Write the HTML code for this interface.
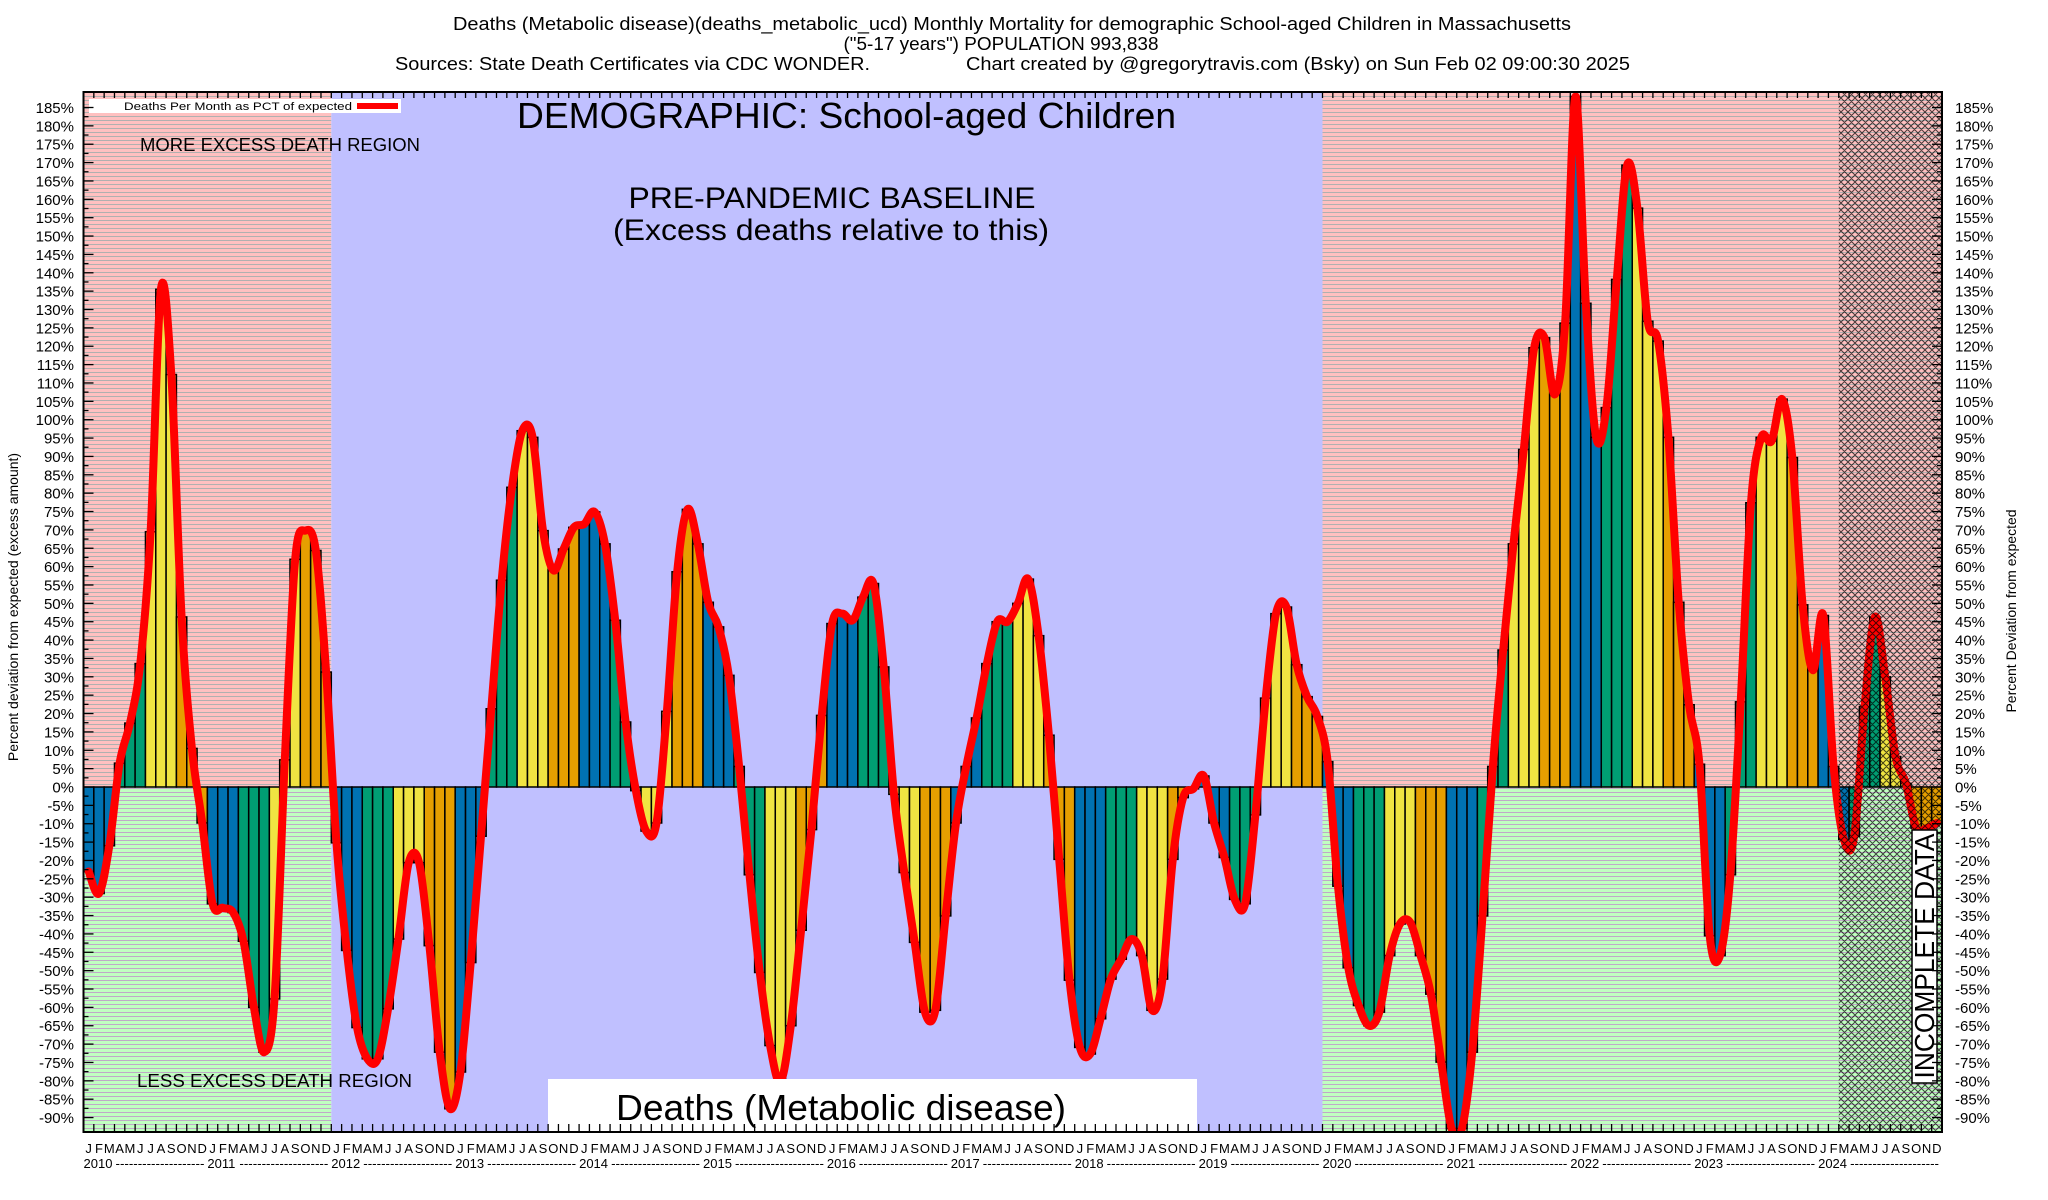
<!DOCTYPE html>
<html><head><meta charset="utf-8"><title>Deaths (Metabolic disease) Monthly Mortality</title>
<style>
html,body{margin:0;padding:0;background:#fff;}
svg{display:block;font-family:"Liberation Sans",Arial,sans-serif;}
</style></head>
<body>
<svg id="chart" width="2048" height="1200" viewBox="0 0 2048 1200" xmlns="http://www.w3.org/2000/svg">
<defs>
  <pattern id="pinkStripe" width="8" height="4" patternUnits="userSpaceOnUse">
    <rect width="8" height="4" fill="#ffc0c0"/>
    <rect y="0" width="8" height="1" fill="#b0b0b0"/>
  </pattern>
  <pattern id="greenStripe" width="8" height="4" patternUnits="userSpaceOnUse">
    <rect width="8" height="4" fill="#c0ffc0"/>
    <rect y="0" width="8" height="1" fill="#c0a8c8"/>
  </pattern>
  <pattern id="hatch" width="7" height="7" patternUnits="userSpaceOnUse">
    <path d="M0,0 L7,7 M7,0 L0,7 M-1,6 L1,8 M6,-1 L8,1 M-1,1 L1,-1 M6,8 L8,6" stroke="#000" stroke-width="1.05" fill="none"/>
  </pattern>
  <clipPath id="plotClip"><rect x="83.5" y="92" width="1858.5" height="1040"/></clipPath>
</defs>

<g font-size="18" fill="#000">
  <text x="1012" y="30" text-anchor="middle" textLength="1118" lengthAdjust="spacingAndGlyphs">Deaths (Metabolic disease)(deaths_metabolic_ucd) Monthly Mortality for demographic School-aged Children in Massachusetts</text>
  <text x="1001" y="50" text-anchor="middle" textLength="315" lengthAdjust="spacingAndGlyphs">("5-17 years") POPULATION 993,838</text>
  <text x="395" y="70" textLength="475" lengthAdjust="spacingAndGlyphs">Sources: State Death Certificates via CDC WONDER.</text>
  <text x="966" y="70" textLength="664" lengthAdjust="spacingAndGlyphs">Chart created by @gregorytravis.com (Bsky) on Sun Feb 02 09:00:30 2025</text>
</g>

<g id="bg"></g>
<g id="bars" clip-path="url(#plotClip)"></g>
<path id="trend" fill="none" stroke="#ff0000" stroke-width="8" stroke-linejoin="round" stroke-linecap="round" clip-path="url(#plotClip)"/>
<rect x="1838.8" y="92" width="103.2" height="1040" fill="url(#hatch)" opacity="0.7"/>

<g fill="#000">
  <text x="140" y="151" font-size="18" textLength="280" lengthAdjust="spacingAndGlyphs">MORE EXCESS DEATH REGION</text>
  <text x="137" y="1087" font-size="18" textLength="275" lengthAdjust="spacingAndGlyphs">LESS EXCESS DEATH REGION</text>
  <text x="517" y="128" font-size="36" textLength="659" lengthAdjust="spacingAndGlyphs">DEMOGRAPHIC: School-aged Children</text>
  <text x="832" y="208" font-size="30" text-anchor="middle" textLength="407" lengthAdjust="spacingAndGlyphs">PRE-PANDEMIC BASELINE</text>
  <text x="831" y="240" font-size="30" text-anchor="middle" textLength="436" lengthAdjust="spacingAndGlyphs">(Excess deaths relative to this)</text>
  <rect x="548" y="1079" width="649" height="53" fill="#fff"/>
  <text x="841" y="1120" font-size="36" text-anchor="middle" textLength="450" lengthAdjust="spacingAndGlyphs">Deaths (Metabolic disease)</text>
  <rect x="1912" y="830" width="25" height="253" fill="#fff" stroke="#000" stroke-width="1.5"/>
  <text transform="translate(1934,956) rotate(-90)" font-size="28" text-anchor="middle" textLength="245" lengthAdjust="spacingAndGlyphs">INCOMPLETE DATA</text>
</g>

<g>
  <rect x="89" y="99" width="312" height="14" fill="#fff"/>
  <text x="124" y="110" font-size="11" textLength="228" lengthAdjust="spacingAndGlyphs">Deaths Per Month as PCT of expected</text>
  <rect x="357" y="103" width="41" height="6" fill="#ff0000"/>
</g>

<g id="axes"></g>
<rect x="83.5" y="92" width="1858.5" height="1040" fill="none" stroke="#000" stroke-width="2"/>

<text transform="translate(18,607) rotate(-90)" font-size="14" text-anchor="middle">Percent deviation from expected (excess amount)</text>
<text transform="translate(2016,611) rotate(-90)" font-size="14" text-anchor="middle">Percent Deviation from expected</text>

<script>
const years = [2010,2011,2012,2013,2014,2015,2016,2017,2018,2019,2020,2021,2022,2023,2024];
const monthLetters = ["J","F","M","A","M","J","J","A","S","O","N","D"];
const yTicks = [185,180,175,170,165,160,155,150,145,140,135,130,125,120,115,110,105,100,95,90,85,80,75,70,65,60,55,50,45,40,35,30,25,20,15,10,5,0,-5,-10,-15,-20,-25,-30,-35,-40,-45,-50,-55,-60,-65,-70,-75,-80,-85,-90];
const values2010 = [-23,-29,-16,6.5,17.4,33.6,69.5,135.5,112.3,46.3,10.5,-9.8];
const values2011 = [-31.8,-32.9,-34.2,-42,-60,-72.2,-57.7,7.4,62,69.8,64.4,31.3];
const values2012 = [-15.2,-44.5,-65.5,-74,-74,-60.4,-41.4,-20.6,-20.6,-43.2,-72.2,-87.6];
const values2013 = [-77.6,-47.8,-13.4,21.3,56.3,81.6,97,95.2,69.8,59,64.8,70.7];
const values2014 = [71.6,74.9,66.2,45.4,17.7,-1,-12,-9.8,20.6,58.6,75.6,66.2];
const values2015 = [50.3,43.6,30.4,5.6,-23.9,-50.5,-70.4,-80.3,-65,-39,-11.6,19.5];
const values2016 = [44.5,47.2,45.4,51.7,55.4,32.7,-2,-23.3,-42.3,-61.3,-60.8,-35.1];
const values2017 = [-9.8,5.6,18.8,33.6,45,45,50,56.6,41.2,14.1,-19.7,-52.6];
const values2018 = [-70.9,-72.7,-63.1,-52.3,-46.9,-41.4,-45.9,-60.8,-52.3,-19.7,-2.9,-0.5];
const values2019 = [3,-9.8,-19.2,-30.6,-31.8,-7.6,24.2,47.2,49,33.3,24.6,19.2];
const values2020 = [6.9,-27,-49.2,-59.5,-65,-61.3,-45.9,-37.3,-36.9,-45.9,-56.4,-74.9];
const values2021 = [-93,-93,-72.2,-35.1,5.6,37.3,66.2,91.9,119.6,122.3,106.9,126.3];
const values2022 = [188,131.7,95.2,103.3,138.2,169.3,157.6,126.8,121.4,95.2,50.3,22.4];
const values2023 = [6.2,-40.5,-45.9,-23.9,23.2,77.4,95.2,94.2,105.6,89.7,49.6,31.8];
const values2024 = [46.7,5.6,-14.3,-13.4,21.9,46.3,30,8.3,1,-11.2,-11.2,-9.8];

const NS = "http://www.w3.org/2000/svg";
const PL = 83.5, PR = 1942, PT = 92, PB = 1132;
const MW = (PR - PL) / 180;
const y = v => 787 - v * 3.673;
const x = i => PL + i * MW;
const quarterColors = ["#0072b2","#009e73","#f0e442","#e69f00"];
const allValues = [].concat(values2010,values2011,values2012,values2013,values2014,values2015,values2016,values2017,values2018,values2019,values2020,values2021,values2022,values2023,values2024);

function mk(tag, parent) { const e = document.createElementNS(NS, tag); parent.appendChild(e); return e; }

const bg = document.getElementById("bg");
function region(x0, x1, y0, y1, fill, name) {
  const r = mk("rect", bg);
  
  
  r.setAttribute("x", x0); r.setAttribute("y", y0);
  r.setAttribute("width", x1 - x0); r.setAttribute("height", y1 - y0);
  r.setAttribute("fill", fill);
}
const xs2012 = x(24), xs2020 = x(120);
region(PL, xs2012, PT, y(0), "url(#pinkStripe)", "excess-region-2010");
region(PL, xs2012, y(0), PB, "url(#greenStripe)", "deficit-region-2010");
region(xs2012, xs2020, PT, PB, "#c0c0ff", "baseline-region");
region(xs2020, PR, PT, y(0), "url(#pinkStripe)", "excess-region-2020");
region(xs2020, PR, y(0), PB, "url(#greenStripe)", "deficit-region-2020");

const bars = document.getElementById("bars");
allValues.forEach((v, i) => {
  const r = mk("rect", bars);
  
  
  const top = Math.min(y(v), y(0)), h = Math.abs(y(v) - y(0));
  r.setAttribute("x", x(i)); r.setAttribute("y", top);
  r.setAttribute("width", MW); r.setAttribute("height", h);
  r.setAttribute("fill", quarterColors[Math.floor((i % 12) / 3)]);
  r.setAttribute("stroke", "#000"); r.setAttribute("stroke-width", "1.5");
});

const pts = allValues.map((v, i) => [x(i) + MW / 2, y(v)]);
let d = "M" + pts[0][0] + "," + pts[0][1];
for (let i = 0; i < pts.length - 1; i++) {
  const p0 = pts[Math.max(0, i - 1)], p1 = pts[i], p2 = pts[i + 1], p3 = pts[Math.min(pts.length - 1, i + 2)];
  const c1x = p1[0] + (p2[0] - p0[0]) / 6, c1y = p1[1] + (p2[1] - p0[1]) / 6;
  const c2x = p2[0] - (p3[0] - p1[0]) / 6, c2y = p2[1] - (p3[1] - p1[1]) / 6;
  d += " C" + c1x.toFixed(1) + "," + c1y.toFixed(1) + " " + c2x.toFixed(1) + "," + c2y.toFixed(1) + " " + p2[0].toFixed(1) + "," + p2[1].toFixed(1);
}
document.getElementById("trend").setAttribute("d", d);

const axes = document.getElementById("axes");
function line(x1, y1, x2, y2, w) {
  const l = mk("line", axes);
  
  
  l.setAttribute("x1", x1); l.setAttribute("y1", y1); l.setAttribute("x2", x2); l.setAttribute("y2", y2);
  l.setAttribute("stroke", "#000"); l.setAttribute("stroke-width", w || 1.3);
}
yTicks.forEach(t => {
  const yy = y(t);
  line(PL, yy, PL + 10, yy); line(PR, yy, PR - 10, yy);
  const minor = y(t - 2.5);
  if (t > -90) { line(PL, minor, PL + 5, minor); line(PR, minor, PR - 5, minor); }
  const lt = mk("text", axes);
  
  
  lt.setAttribute("x", 74); lt.setAttribute("y", yy + 5.5);
  lt.setAttribute("text-anchor", "end"); lt.setAttribute("font-size", "15");
  lt.textContent = t + "%";
  const rt = mk("text", axes);
  
  
  rt.setAttribute("x", 1955); rt.setAttribute("y", yy + 5.5);
  rt.setAttribute("font-size", "15");
  rt.textContent = t + "%";
});
for (let i = 0; i <= 180; i++) {
  line(x(i), PT, x(i), PT + 6);
  line(x(i), PB, x(i), PB - 8);
}
for (let i = 0; i < 180; i++) {
  const t = mk("text", axes);
  
  
  t.setAttribute("x", x(i) + MW / 2); t.setAttribute("y", 1153);
  t.setAttribute("text-anchor", "middle"); t.setAttribute("font-size", "13");
  t.textContent = monthLetters[i % 12];
}
years.forEach((yr, k) => {
  const t = mk("text", axes);
  
  
  t.setAttribute("x", x(k * 12)); t.setAttribute("y", 1168);
  t.setAttribute("font-size", "13");
  t.textContent = yr;
  const dsh = mk("text", axes);
  
  
  dsh.setAttribute("x", x(k * 12) + 32); dsh.setAttribute("y", 1168);
  dsh.setAttribute("font-size", "13");
  dsh.setAttribute("textLength", (MW * 12 - 35).toFixed(1));
  dsh.setAttribute("lengthAdjust", "spacingAndGlyphs");
  dsh.textContent = "--------------------";
});
</script>
</svg>
</body></html>
